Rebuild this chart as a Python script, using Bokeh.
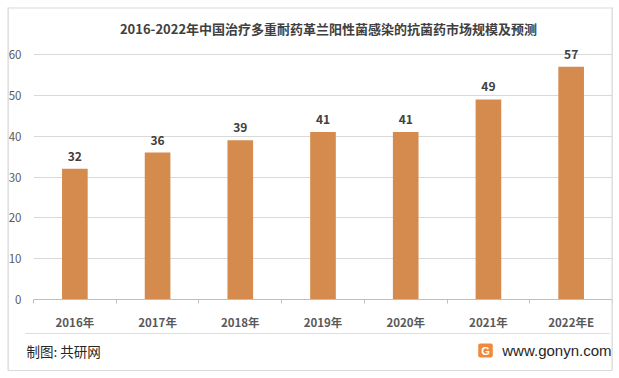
from bokeh.plotting import figure
from bokeh.models import (ColumnDataSource, FixedTicker, LabelSet, Label, Range1d)
from bokeh.core.properties import value
from bokeh.embed import file_html
from bokeh.resources import INLINE

# ---- data ----
years = ["2016年", "2017年", "2018年", "2019年", "2020年", "2021年", "2022年E"]
values = [32, 36, 39, 41, 41, 49, 57]
y_ticks = [0, 10, 20, 30, 40, 50, 60]
title_text = "2016-2022年中国治疗多重耐药革兰阳性菌感染的抗菌药市场规模及预测"
source_text = "制图: 共研网"
site_text = "www.gonyn.com"

FONT = "Noto Sans CJK SC"
BAR = "#D48B4D"
GRID = "#D9D9D9"
EDGE = "#D9D9D9"

xpos = [i + 0.5 for i in range(len(years))]
src = ColumnDataSource(dict(x=xpos, top=values, lab=[str(v) for v in values]))

W, H = 619, 378
FL, FR, FT, FB = 33, 612, 46, 299   # frame edges on canvas
Y0, Y60 = 299, 54                   # canvas rows of 0 and 60
ytop = 60 * (FB - FT) / (Y0 - Y60)

p = figure(width=W, height=H, output_backend="svg", toolbar_location=None,
           x_range=Range1d(0, len(years)), y_range=Range1d(0, ytop),
           min_border_left=FL, min_border_right=W - FR,
           min_border_top=FT, min_border_bottom=H - FB)
p.background_fill_color = "white"
p.border_fill_color = "white"
p.outline_line_color = None

p.vbar(x="x", top="top", width=0.31, source=src, fill_color=BAR, line_color=None)

p.add_layout(LabelSet(x="x", y="top", text="lab", source=src, text_align="center",
                      text_baseline="bottom", y_offset=8, text_font=value(FONT),
                      text_font_size="12px", text_font_style="bold",
                      text_color="#404040"))

# x axis
p.xaxis.ticker = FixedTicker(ticks=xpos, minor_ticks=list(range(len(years) + 1)))
p.xaxis.major_label_overrides = {x: y for x, y in zip(xpos, years)}
p.xaxis.major_tick_out = 0
p.xaxis.major_tick_in = 0
p.xaxis.minor_tick_out = 4
p.xaxis.minor_tick_in = 0
p.xaxis.minor_tick_line_color = "#BFBFBF"
p.xaxis.axis_line_color = "#BFBFBF"
p.xaxis.major_label_standoff = 10
p.xaxis.major_label_text_font = FONT
p.xaxis.major_label_text_font_size = "11.5px"
p.xaxis.major_label_text_font_style = "bold"
p.xaxis.major_label_text_color = "#595959"

# y axis
p.yaxis.ticker = FixedTicker(ticks=y_ticks)
p.yaxis.axis_line_color = None
p.yaxis.major_tick_line_color = None
p.yaxis.major_tick_out = 0
p.yaxis.major_tick_in = 0
p.yaxis.minor_tick_line_color = None
p.yaxis.major_label_standoff = 12
p.yaxis.major_label_text_font = FONT
p.yaxis.major_label_text_font_size = "11.5px"
p.yaxis.major_label_text_color = "#595959"

p.xgrid.grid_line_color = None
p.ygrid.grid_line_color = GRID
p.ygrid.ticker = FixedTicker(ticks=y_ticks[1:])


def line_label(x, y, align, pad, color=EDGE):
    return Label(x=x, y=y, x_units="canvas", y_units="canvas", text=" ",
                 text_font_size="1px", text_align=align, text_baseline="middle",
                 padding=pad, background_fill_color=color, background_fill_alpha=1)


# picture border: top / bottom / separator (thin, kept in the top panel)
p.add_layout(line_label(309.5, 7.5, "center", (302, 302, 0, 0)), "above")
p.add_layout(line_label(309.5, 370, "center", (302, 302, 0, 0)), "above")
p.add_layout(line_label(317, 333, "center", (292, 292, 0, 0), "#DDDDDD"), "above")
# left / right border (narrow, kept in the side panels)
p.add_layout(line_label(7, 188.5, "left", (0, 1, 181, 181)), "left")
p.add_layout(line_label(611, 188.5, "left", (0, 1, 181, 181)), "right")

# title
p.add_layout(Label(x=328, y=28, x_units="canvas", y_units="canvas",
                   text=title_text, text_align="center", text_baseline="middle",
                   text_font=FONT, text_font_size="13px", text_font_style="bold",
                   text_color="#404040"), "above")

# logo (small, kept in the top panel)
p.add_layout(Label(x=485, y=350, x_units="canvas", y_units="canvas",
                   text="G", text_align="center", text_baseline="middle",
                   text_font="Liberation Sans", text_font_size="11px",
                   text_font_style="bold", text_color="white",
                   background_fill_color="#F0893A", padding=(3, 3, 1, 1),
                   border_radius=2), "above")

# footer texts
p.add_layout(Label(x=26, y=350, x_units="canvas", y_units="canvas",
                   text=source_text, text_align="left", text_baseline="middle",
                   text_font=FONT, text_font_size="13.5px", text_color="#262626"),
             "below")
p.add_layout(Label(x=611, y=350, x_units="canvas", y_units="canvas",
                   text=site_text, text_align="right", text_baseline="middle",
                   text_font="Liberation Sans", text_font_size="15px",
                   text_color="#262626"), "below")

open("out.html", "w").write(file_html(p, INLINE))
